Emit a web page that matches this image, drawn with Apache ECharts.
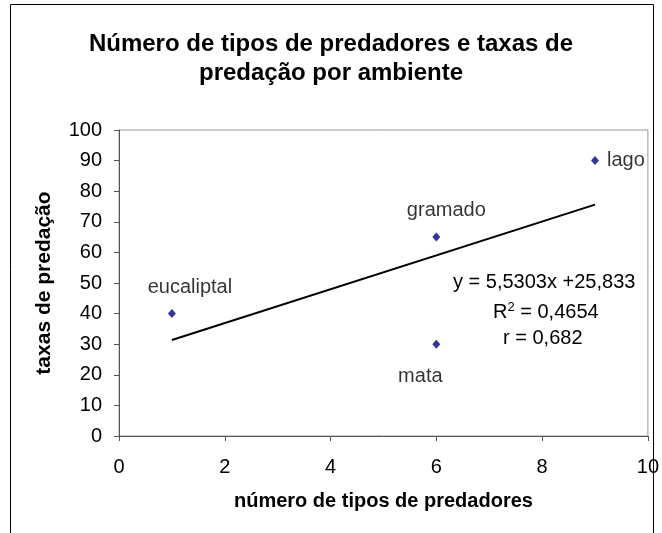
<!DOCTYPE html>
<html>
<head>
<meta charset="utf-8">
<script src="https://cdn.jsdelivr.net/npm/echarts@6/dist/echarts.min.js"></script>
<style>
  html, body { margin: 0; padding: 0; background: #fff; }
  #chart { width: 662px; height: 533px; }
</style>
</head>
<body>
<div id="chart"></div>
<script>
// dados
var ambientes = ['eucaliptal', 'gramado', 'mata', 'lago'];
var numPredadores = [1, 6, 6, 9];
var taxasPredacao = [40, 65, 30, 90];

// linha de tendência (extremos da reta y = 5,5303x + 25,833)
var trendX = [1, 9];
var trendY = [31.36, 75.61];

var xTicks = [0, 2, 4, 6, 8, 10];
var yTicks = [0, 10, 20, 30, 40, 50, 60, 70, 80, 90, 100];

// posição dos rótulos (estilo, não dados)
var labelCfg = [
    { position: 'top', distance: 12, offset: [18, 0] },
    { position: 'top', distance: 12, offset: [10, 0] },
    { position: 'bottom', distance: 18, offset: [-16, 0] },
    { position: 'right', distance: 8, offset: [0, 0] }
];

var box = document.getElementById('chart');
var myChart = echarts.init(box);

var pontos = [];
ambientes.forEach(function (nome, i) {
    pontos.push({
        name: nome,
        value: [numPredadores[i], taxasPredacao[i]],
        label: labelCfg[i]
    });
});

var linha = [];
trendX.forEach(function (x, i) {
    linha.push([x, trendY[i]]);
});

var font = 'Liberation Sans, Arial, sans-serif';

var options = {
    animation: false,
    title: {
        text: 'Número de tipos de predadores e taxas de\npredação por ambiente',
        left: 'center',
        top: 25,
        textStyle: {
            fontFamily: font,
            fontSize: 24,
            fontWeight: 'bold',
            color: '#000',
            lineHeight: 29
        }
    },
    grid: {
        left: 119,
        right: 14,
        top: 130,
        bottom: 97,
        show: true,
        borderColor: '#999',
        borderWidth: 1
    },
    xAxis: {
        type: 'value',
        min: 0,
        max: 10,
        interval: 2,
        name: 'número de tipos de predadores',
        nameLocation: 'middle',
        nameGap: 55,
        nameTextStyle: { fontFamily: font, fontSize: 20, fontWeight: 'bold', color: '#000' },
        axisLine: { show: true, lineStyle: { color: '#555', width: 1 } },
        axisTick: { show: true, length: 5, lineStyle: { color: '#555' } },
        axisLabel: { fontFamily: font, fontSize: 20, color: '#000', margin: 21 },
        splitLine: { show: false }
    },
    yAxis: {
        type: 'value',
        min: 0,
        max: 100,
        interval: 10,
        name: 'taxas de predação',
        nameLocation: 'middle',
        nameGap: 64,
        nameTextStyle: { fontFamily: font, fontSize: 21, fontWeight: 'bold', color: '#000' },
        axisLine: { show: true, lineStyle: { color: '#555', width: 1 } },
        axisTick: { show: true, length: 5, lineStyle: { color: '#555' } },
        axisLabel: { fontFamily: font, fontSize: 20, color: '#000', margin: 17 },
        splitLine: { show: false }
    },
    series: [
        {
            name: 'tendência',
            type: 'line',
            data: linha,
            symbol: 'none',
            lineStyle: { color: '#000', width: 2 },
            silent: true,
            z: 1
        },
        {
            name: 'ambientes',
            type: 'scatter',
            data: pontos,
            symbol: 'diamond',
            symbolSize: [8, 9],
            itemStyle: { color: '#000080' },
            label: {
                show: true,
                formatter: '{b}',
                fontFamily: font,
                fontSize: 20,
                color: '#000',
                textBorderWidth: 0
            },
            z: 3
        }
    ],
    graphic: [
        {
            type: 'rect',
            shape: { x: 10.5, y: 4.5, width: 643, height: 540 },
            style: { fill: 'none', stroke: '#000', lineWidth: 1 },
            silent: true
        },
        {
            type: 'text',
            x: 453,
            y: 282,
            style: {
                text: 'y = 5,5303x +25,833',
                font: '20px ' + font,
                fill: '#000',
                verticalAlign: 'middle'
            }
        },
        {
            type: 'text',
            x: 493,
            y: 312,
            style: {
                text: 'R{s|2} = 0,4654',
                font: '20px ' + font,
                fill: '#000',
                verticalAlign: 'middle',
                rich: {
                    s: { fontSize: 13, fontFamily: font, verticalAlign: 'top', padding: [0, 0, 10, 0] }
                }
            }
        },
        {
            type: 'text',
            x: 503,
            y: 338,
            style: {
                text: 'r = 0,682',
                font: '20px ' + font,
                fill: '#000',
                verticalAlign: 'middle'
            }
        }
    ]
};

myChart.setOption(options);
</script>
</body>
</html>
